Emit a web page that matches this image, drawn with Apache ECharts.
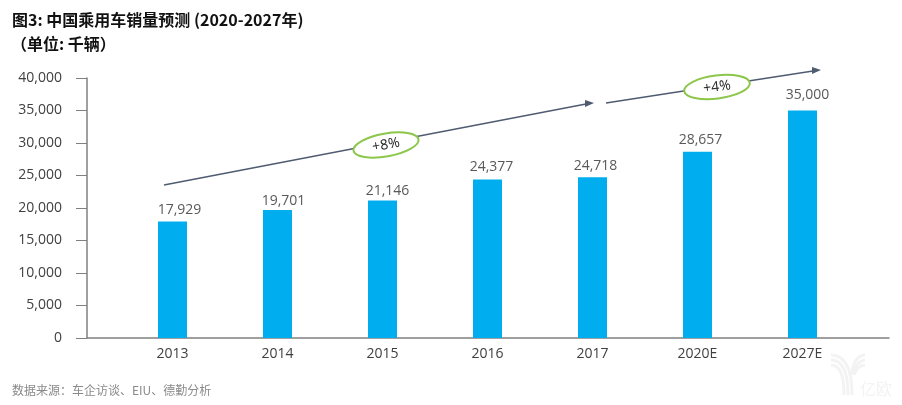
<!DOCTYPE html>
<html>
<head>
<meta charset="utf-8">
<style>
html, body { margin: 0; padding: 0; background: #fff; }
#main { width: 902px; height: 405px; }
</style>
<script src="https://cdn.jsdelivr.net/npm/echarts@6/dist/echarts.min.js"></script>
</head>
<body>
<div id="main"></div>
<script>
var years = ['2013', '2014', '2015', '2016', '2017', '2020E', '2027E'];
var sales = [17929, 19701, 21146, 24377, 24718, 28657, 35000];
var yTicks = [0, 5000, 10000, 15000, 20000, 25000, 30000, 35000, 40000];
var titleLines = ['图3: 中国乘用车销量预测 (2020-2027年)', '（单位: 千辆）'];
var sourceText = '数据来源：车企访谈、EIU、德勤分析';
var growth = ['+8%', '+4%'];
// the value labels sit a little off-centre in the original
var labelShift = [[7, 0], [6, 2], [5, 1], [4, -2], [3, 0], [3, -1], [5, -4]];

var cnFont = '"Noto Sans CJK SC", "Open Sans", sans-serif';
var numFont = '"Open Sans", "Noto Sans CJK SC", sans-serif';
var arrowColor = '#4f5b70';
var ringColor = '#8cc64a';
var markColor = '#f3f3f3';

function arrowLine(x1, y1, x2, y2) {
    return [
        { type: 'line', shape: { x1: x1, y1: y1, x2: x2, y2: y2 }, style: { stroke: arrowColor, lineWidth: 1.3 } },
        { type: 'polygon', shape: { points: [[x2 + 8, y2 - 1], [x2 - 1, y2 + 3], [x2 - 1, y2 - 4]] }, style: { fill: arrowColor } }
    ];
}

function growthRing(cx, cy, angle, text) {
    return [
        { type: 'ellipse', shape: { cx: 0, cy: 0, rx: 33, ry: 11.5 }, x: cx, y: cy, rotation: angle * Math.PI / 180, z: 10,
          style: { fill: '#fff', stroke: ringColor, lineWidth: 2 } },
        { type: 'text', x: cx, y: cy, rotation: angle * Math.PI / 180, z: 11,
          style: { text: text, font: '14px ' + numFont, fill: '#222', align: 'center', verticalAlign: 'middle' } }
    ];
}

// watermark stroke
function markCurve(x1, y1, cx, cy, x2, y2) {
    return { type: 'bezierCurve', shape: { x1: x1, y1: y1, cpx1: cx, cpy1: cy, x2: x2, y2: y2 },
        style: { stroke: markColor, lineWidth: 3, fill: 'none' } };
}

var graphics = [
    { type: 'text', x: 12, y: 20, style: { text: titleLines[0], font: 'bold 16px ' + cnFont, fill: '#111', verticalAlign: 'middle' } },
    { type: 'text', x: 11, y: 44, style: { text: titleLines[1], font: 'bold 16px ' + cnFont, fill: '#111', verticalAlign: 'middle' } },
    { type: 'text', x: 12, y: 390, style: { text: sourceText, font: '12px ' + cnFont, fill: '#8a8a8a', verticalAlign: 'middle' } },
    markCurve(831, 355, 852, 355, 852, 395),
    markCurve(831, 360, 848, 360, 848, 395),
    markCurve(831, 365, 844, 365, 844, 395),
    markCurve(865, 355, 853, 356, 852, 375),
    markCurve(865, 360, 856, 361, 853, 375),
    markCurve(865, 365, 858, 365, 854, 375),
    { type: 'text', x: 860, y: 389, style: { text: '亿欧', font: '16px ' + cnFont, fill: markColor, verticalAlign: 'middle' } }
];
graphics = graphics.concat(
    arrowLine(164, 185, 586, 104),
    arrowLine(606, 103, 813, 71),
    growthRing(386, 145, 10, growth[0]),
    growthRing(717, 87, 7, growth[1])
);

var myChart = echarts.init(document.getElementById('main'));

var option = {
    animation: false,
    textStyle: { fontFamily: numFont },
    grid: [
        { left: 87, top: 78, width: 802, height: 260 },
        { left: 120, top: 78, width: 735, height: 260 }
    ],
    xAxis: [
        { gridIndex: 0, type: 'category', data: [''], axisTick: { show: false }, axisLabel: { show: false },
          axisLine: { lineStyle: { color: '#808080', width: 1.5 } } },
        { gridIndex: 1, type: 'category', data: years, axisTick: { show: false },
          axisLine: { show: false },
          axisLabel: { color: '#404040', fontSize: 14, margin: 9, fontFamily: numFont } }
    ],
    yAxis: [
        { gridIndex: 0, type: 'value', min: 0, max: 40000, interval: 5000, splitLine: { show: false },
          axisLine: { show: true, lineStyle: { color: '#808080', width: 1.5 } },
          axisTick: { show: true, length: 11, lineStyle: { color: '#808080', width: 1 } },
          axisLabel: { color: '#404040', fontSize: 14, margin: 25, fontFamily: numFont,
              formatter: function (v) { return yTicks.indexOf(v) >= 0 ? echarts.format.addCommas(v) : ''; } } },
        { gridIndex: 1, type: 'value', min: 0, max: 40000, show: false, splitLine: { show: false } }
    ],
    series: [{
        type: 'bar',
        xAxisIndex: 1,
        yAxisIndex: 1,
        data: sales.map(function (v, i) {
            return { value: v, label: { offset: labelShift[i] } };
        }),
        barWidth: 29,
        itemStyle: { color: '#00aeef' },
        label: { show: true, position: 'top', distance: 4, color: '#595959', fontSize: 14, fontFamily: numFont,
            formatter: function (p) { return echarts.format.addCommas(p.value); } }
    }],
    graphic: graphics
};

myChart.setOption(option);
</script>
</body>
</html>
